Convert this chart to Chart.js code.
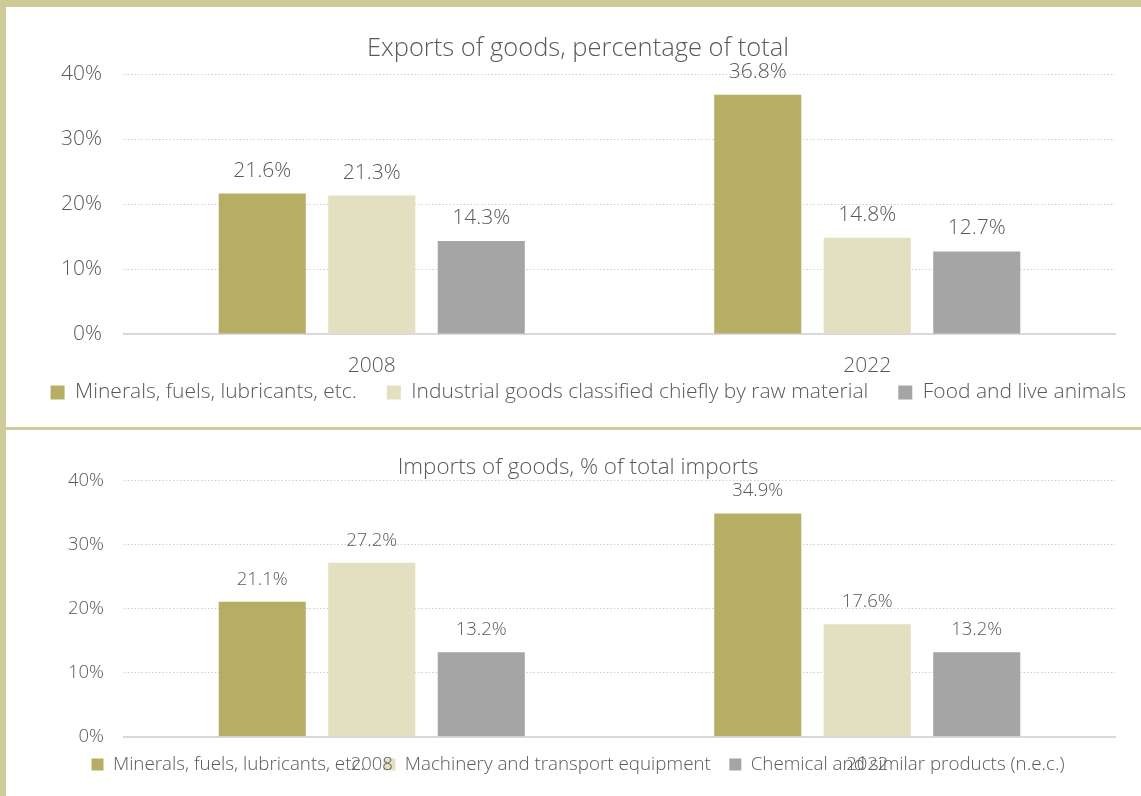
<!DOCTYPE html>
<html>
<head>
<meta charset="utf-8">
<title>Exports and imports of goods</title>
<script src="https://cdn.jsdelivr.net/npm/chart.js@4"></script>
<style>
  html, body { margin: 0; padding: 0; background: #fff; }
  body { width: 1141px; height: 796px; position: relative; overflow: hidden; }
  /* olive frame along the top, the left side and between the two panels */
  .frame { position: absolute; background: #cfcb98; z-index: 2; }
  /* panels run a little past the right edge so the wide legend row fits */
  .panel { position: absolute; left: 0; }
</style>
</head>
<body>
<div class="frame" style="left:0;top:0;width:1141px;height:7px"></div>
<div class="frame" style="left:0;top:0;width:6px;height:796px"></div>
<div class="frame" style="left:6px;top:427px;width:1135px;height:3px"></div>
<div class="panel" style="top:7px"><canvas id="exports" width="1156" height="420"></canvas></div>
<div class="panel" style="top:430px"><canvas id="imports" width="1156" height="366"></canvas></div>
<script>
const years = ['2008', '2022'];
const percentTicks = [0, 10, 20, 30, 40];

const exportGroups = [
  'Minerals, fuels, lubricants, etc.',
  'Industrial goods classified chiefly by raw material',
  'Food and live animals'
];
const exportMinerals = [21.6, 36.8];
const exportIndustrial = [21.3, 14.8];
const exportFood = [14.3, 12.7];

const importGroups = [
  'Minerals, fuels, lubricants, etc.',
  'Machinery and transport equipment',
  'Chemical and similar products (n.e.c.)'
];
const importMinerals = [21.1, 34.9];
const importMachinery = [27.2, 17.6];
const importChemical = [13.2, 13.2];

const palette = ['#b5ae64', '#e3dfc1', '#a5a5a5'];
const ink = '#595959';

Chart.defaults.font.family = "'Open Sans', sans-serif";
Chart.defaults.font.weight = 300;
Chart.defaults.color = ink;

// writes each bar's value above it
const valueLabels = {
  id: 'valueLabels',
  afterDatasetsDraw(chart, args, opts) {
    const ctx = chart.ctx;
    ctx.save();
    ctx.font = `300 ${opts.size}px 'Open Sans', sans-serif`;
    ctx.fillStyle = ink;
    ctx.textAlign = 'center';
    ctx.textBaseline = 'alphabetic';
    chart.data.datasets.forEach((ds, i) => {
      chart.getDatasetMeta(i).data.forEach((bar, j) => {
        ctx.fillText(ds.data[j].toFixed(1) + '%', bar.x, bar.y - opts.gap);
      });
    });
    ctx.restore();
  }
};

function groupedBars(id, groups, series, look) {
  return new Chart(document.getElementById(id), {
    type: 'bar',
    data: {
      labels: years,
      datasets: series.map((values, i) => ({
        label: groups[i],
        data: values,
        backgroundColor: palette[i],
        categoryPercentage: 0.663,
        barPercentage: 0.795
      }))
    },
    options: {
      responsive: false,
      animation: false,
      events: [],
      layout: { padding: { left: 0, right: 0, top: 0, bottom: look.bottomPad } },
      plugins: {
        title: {
          display: true,
          text: look.title,
          color: ink,
          font: { size: look.titleSize, weight: 300 },
          padding: look.titlePad
        },
        legend: {
          position: 'bottom',
          align: look.legendAlign,
          labels: {
            color: ink,
            boxWidth: look.box,
            boxHeight: look.box,
            padding: look.legendGap,
            font: { size: look.legendSize, weight: 300 }
          }
        },
        tooltip: { enabled: false },
        valueLabels: { size: look.textSize, gap: 17 }
      },
      scales: {
        x: {
          grid: { display: false },
          border: { display: true, color: '#d9d9d9', width: 2 },
          // mirrored (so not clipped to the thin axis box); the negative
          // padding pushes the year labels back down below the axis line
          ticks: { color: ink, mirror: true, padding: -look.xDrop, font: { size: look.textSize, weight: 300 } },
          afterFit: s => { s.height = look.xHeight; }
        },
        y: {
          min: percentTicks[0],
          max: percentTicks[percentTicks.length - 1],
          grid: { color: '#cfcfcf', drawTicks: false },
          border: { display: false, dash: [1.5, 2] },
          ticks: {
            color: ink,
            padding: look.yPad,
            font: { size: look.textSize, weight: 300 },
            callback: v => v + '%'
          },
          afterBuildTicks: s => { s.ticks = percentTicks.map(v => ({ value: v })); },
          afterFit: s => { s.width = 124; }
        },
        // empty axis on the right, keeps the plot clear of the overflow strip
        pad: {
          type: 'linear',
          position: 'right',
          grid: { display: false },
          border: { display: false },
          ticks: { display: false },
          afterFit: s => { s.width = 41; }
        }
      }
    },
    plugins: [valueLabels]
  });
}

groupedBars('exports', exportGroups, [exportMinerals, exportIndustrial, exportFood], {
  title: 'Exports of goods, percentage of total',
  titleSize: 25.5,
  titlePad: { top: 26.4, bottom: 10 },
  textSize: 21,
  legendSize: 21,
  legendAlign: 'end',
  legendGap: 30,
  box: 14,
  xDrop: 44.6,
  xHeight: 18,
  yPad: 22,
  bottomPad: 14
});

groupedBars('imports', importGroups, [importMinerals, importMachinery, importChemical], {
  title: 'Imports of goods, % of total imports',
  titleSize: 22.4,
  titlePad: { top: 24, bottom: 0 },
  textSize: 18.5,
  legendSize: 18.8,
  legendAlign: 'center',
  legendGap: 18.5,
  box: 12,
  xDrop: 39.1,
  xHeight: 0,
  yPad: 20,
  bottomPad: 12
});
</script>
</body>
</html>
